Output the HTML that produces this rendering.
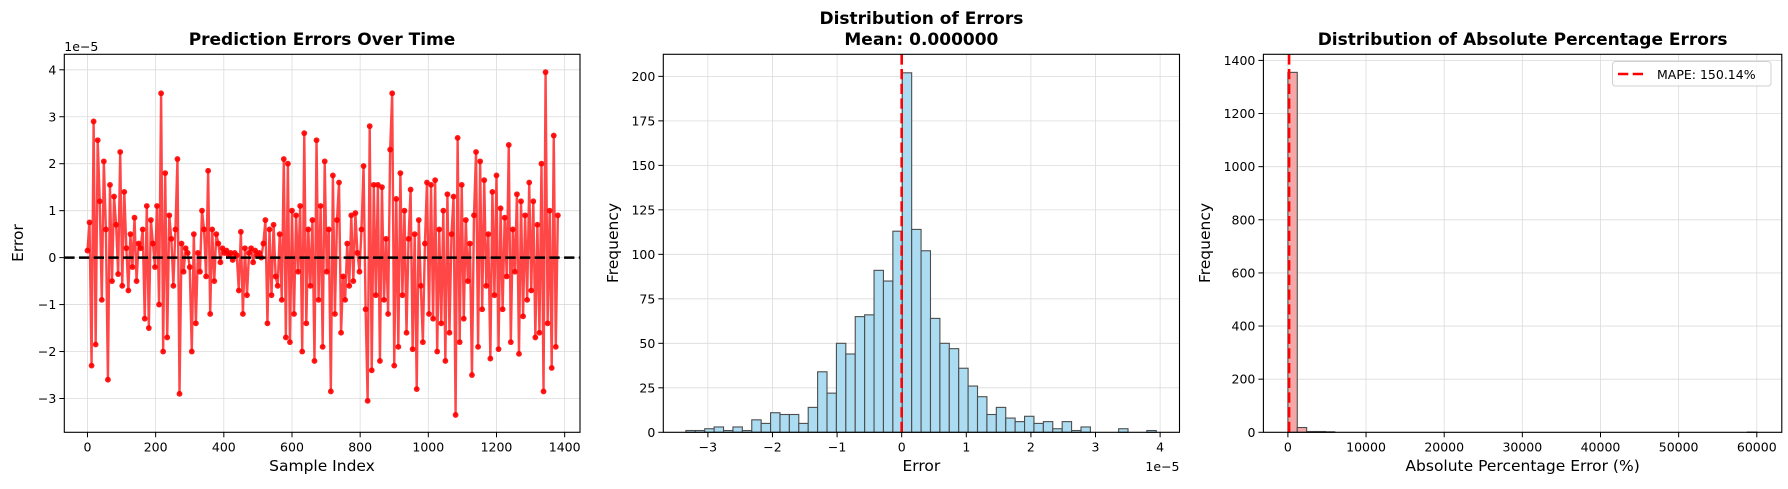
<!DOCTYPE html>
<html><head><meta charset="utf-8">
<style>
html,body{margin:0;padding:0;background:#fff;}
svg{display:block;font-family:"DejaVu Sans","Liberation Sans",sans-serif;}
</style></head>
<body>
<svg id="fig" width="1788" height="489" viewBox="0 0 1788 489" xmlns="http://www.w3.org/2000/svg">
<rect width="1788" height="489" fill="#fff"/>
</svg>
<script>
// ---- Panel 1 data: prediction errors (units of 1e-5), sampled every 6 indices ----
const errStep = 6;
const errValues = [
0.15,0.75,-2.3,2.9,-1.85,2.5,1.2,-0.9,2.05,0.6,
-2.6,1.55,-0.5,1.3,0.7,-0.35,2.25,-0.6,1.4,0.2,
-0.7,0.5,-0.2,0.85,-0.5,0.3,0.2,0.6,-1.3,1.1,
-1.5,0.8,0.3,-0.2,1.1,-1.0,3.5,-2.0,1.8,-1.7,
0.9,0.4,-0.6,0.6,2.1,-2.9,0.3,-0.3,0.2,0.1,
-0.2,-2.0,0.5,-1.4,0.1,-0.3,1.0,0.6,-0.4,1.85,
-1.2,0.6,-0.5,0.5,0.3,-0.1,0.2,0.1,0.15,0.05,
0.1,-0.05,0.1,0.05,-0.7,0.55,-1.2,0.2,-0.8,0.1,
0.2,-0.1,0.15,0.05,0.1,0.0,0.3,0.8,-1.4,0.6,
-0.8,0.7,-0.4,-0.6,0.5,-0.9,2.1,-1.7,2.0,-1.8,
1.0,-1.2,0.9,-0.3,1.1,-2.0,2.65,-1.4,0.6,-0.6,
0.8,-2.2,2.5,-0.9,1.1,-1.9,2.05,-0.3,0.6,-2.85,
1.75,-1.2,0.8,1.6,-1.6,-0.4,-0.9,0.3,-0.6,0.9,
-0.5,0.95,0.1,-0.3,0.6,1.95,-1.1,-3.05,2.8,-2.4,
1.55,-0.8,1.55,-2.2,1.5,-0.9,0.4,-1.2,2.3,3.5,
-2.3,1.25,-1.9,1.8,-0.8,1.0,-1.6,0.4,1.45,-1.95,
0.5,-2.8,0.8,-0.6,-1.8,0.3,1.6,-1.2,1.55,-1.3,
1.65,-2.0,0.6,-1.4,1.0,-2.2,1.35,-1.6,0.5,1.3,
-3.35,2.55,-1.8,1.55,-1.3,0.8,-0.5,0.3,-2.5,0.9,
2.25,-1.9,2.05,-1.1,1.65,-0.6,0.5,-2.15,1.4,-0.8,
1.75,-1.95,1.05,-1.1,0.85,-0.4,2.4,-1.8,0.6,-0.3,
1.35,-2.05,1.2,-1.25,0.9,-0.9,1.6,-0.7,1.2,-1.7,
0.7,-1.6,2.0,-2.85,3.95,-1.4,1.0,-2.35,2.6,-1.9,
0.9];
const p1XTicks = [0,200,400,600,800,1000,1200,1400];
const p1YTicks = [-3,-2,-1,0,1,2,3,4];
const p1YTickLabels = ["\u22123","\u22122","\u22121","0","1","2","3","4"];

// ---- Panel 2 data: histogram of errors (units of 1e-5) ----
const errBinStart = -3.34;
const errBinWidth = 0.1456;
const errCounts = [1,1,2,3,1,3,1,7,5,11,10,10,5,14,34,22,50,44,65,66,91,85,113,202,114,102,64,50,47,36,26,20,10,14,8,6,9,5,6,2,6,1,3,0,0,0,2,0,0,1];
const errMean = 0;
const p2XTicks = [-3,-2,-1,0,1,2,3,4];
const p2XTickLabels = ["\u22123","\u22122","\u22121","0","1","2","3","4"];
const p2YTicks = [0,25,50,75,100,125,150,175,200];

// ---- Panel 3 data: histogram of absolute percentage errors ----
const apeBinStart = 0;
const apeBinWidth = 1200;
const apeCounts = [1355,18,3,3,2,0,0,0,0,0,0,0,0,0,0,0,0,0,0,0,0,0,0,0,0,0,0,0,0,0,0,0,0,0,0,0,0,0,0,0,0,0,0,0,0,0,0,0,0,1];
const mapeValue = 150.14;
const p3XTicks = [0,10000,20000,30000,40000,50000,60000];
const p3YTicks = [0,200,400,600,800,1000,1200,1400];

const NS = "http://www.w3.org/2000/svg";
const fig = document.getElementById('fig');
function mk(tag, attrs, parent){
  const e = document.createElementNS(NS, tag);
  for (const k in attrs) e.setAttribute(k, attrs[k]);
  (parent||fig).appendChild(e);
  return e;
}
function txt(s, attrs, parent){ const t = mk('text', attrs, parent); t.textContent = s; return t; }

function axes(name, L, R, T, B, xmin, xmax, ymin, ymax){
  const g = mk('g', {});
  
  
  const sx = v => L + (v - xmin) / (xmax - xmin) * (R - L);
  const sy = v => B - (v - ymin) / (ymax - ymin) * (B - T);
  return {g, sx, sy, L, R, T, B};
}
function grid(a, xt, yt){
  const gg = mk('g', {stroke:'#dcdcdc', 'stroke-width':0.8}, a.g);
  
  
  xt.forEach(v => mk('line', {x1:a.sx(v), x2:a.sx(v), y1:a.T, y2:a.B}, gg));
  yt.forEach(v => mk('line', {x1:a.L, x2:a.R, y1:a.sy(v), y2:a.sy(v)}, gg));
}
function frameTicks(a, xt, xl, yt, yl, fontSize){
  const fg = mk('g', {}, a.g);
  
  
  mk('rect', {x:a.L, y:a.T, width:a.R-a.L, height:a.B-a.T, fill:'none', stroke:'#000', 'stroke-width':1.1}, fg);
  const xg = mk('g', {}, a.g);
  
  
  xt.forEach((v,i) => {
    mk('line', {x1:a.sx(v), x2:a.sx(v), y1:a.B, y2:a.B+5, stroke:'#000', 'stroke-width':1}, xg);
    const t = txt(xl[i], {x:a.sx(v), y:a.B+19, 'text-anchor':'middle', 'font-size':fontSize, fill:'#000'}, xg);
    
    
  });
  const yg = mk('g', {}, a.g);
  
  
  yt.forEach((v,i) => {
    mk('line', {x1:a.L-5, x2:a.L, y1:a.sy(v), y2:a.sy(v), stroke:'#000', 'stroke-width':1}, yg);
    const t = txt(yl[i], {x:a.L-8, y:a.sy(v)+4.5, 'text-anchor':'end', 'font-size':fontSize, fill:'#000'}, yg);
    
    
  });
}
function title(lines, cx, ys){
  lines.forEach((s,i) => {
    const t = txt(s, {x:cx, y:ys[i], 'text-anchor':'middle', 'font-size':17, 'font-weight':'bold', fill:'#000'});
    
    
  });
}
function xlabel(s, cx){
  const t = txt(s, {x:cx, y:471, 'text-anchor':'middle', 'font-size':15.5, fill:'#000'});
  
  
}
function ylabel(s, x, cy){
  const t = txt(s, {x:x, y:cy, 'text-anchor':'middle', 'font-size':15.5, fill:'#000', transform:`rotate(-90 ${x} ${cy})`});
  
  
}

// ===== Panel 1 =====
(function(){
  const a = axes('errors-over-time-panel', 64.3, 580, 54.3, 432.3, -68, 1445, -3.72, 4.33);
  grid(a, p1XTicks, p1YTicks);
  const sg = mk('g', {}, a.g);
  
  
  let d = '';
  errValues.forEach((v,i) => { d += (i? 'L':'M') + a.sx(i*errStep).toFixed(2) + ' ' + a.sy(v).toFixed(2); });
  const path = mk('path', {d:d, fill:'none', stroke:'#ff0000', 'stroke-opacity':0.72, 'stroke-width':2.4, 'stroke-linejoin':'round'}, sg);
  
  
  errValues.forEach((v,i) => {
    const c = mk('circle', {cx:a.sx(i*errStep), cy:a.sy(v), r:2.9, fill:'#ff0000', 'fill-opacity':0.9}, sg);
    
    
  });
  const z = mk('line', {x1:a.L, x2:a.R, y1:a.sy(0), y2:a.sy(0), stroke:'#000', 'stroke-width':2.6, 'stroke-dasharray':'10.3 4.4'}, a.g);
  
  
  frameTicks(a, p1XTicks, p1XTicks.map(String), p1YTicks, p1YTickLabels, 12.5);
  const o = txt('1e\u22125', {x:64.3, y:51, 'font-size':12.5, fill:'#000'});
  
  
  title(['Prediction Errors Over Time'], 322, [45]);
  xlabel('Sample Index', 322);
  ylabel('Error', 23, 243);
})();

// ===== Panel 2 =====
(function(){
  const a = axes('error-distribution-panel', 663.3, 1179.5, 54.3, 432.3, -3.69, 4.30, 0, 212.4);
  grid(a, p2XTicks, p2YTicks);
  const bg = mk('g', {}, a.g);
  
  
  errCounts.forEach((c,i) => {
    if (c <= 0) return;
    const x0 = a.sx(errBinStart + i*errBinWidth), x1 = a.sx(errBinStart + (i+1)*errBinWidth);
    const r = mk('rect', {x:x0, y:a.sy(c), width:x1-x0, height:a.sy(0)-a.sy(c), fill:'#abdcf1', stroke:'#4d4d4d', 'stroke-width':1.1}, bg);
    
    
  });
  const m = mk('line', {x1:a.sx(errMean), x2:a.sx(errMean), y1:a.T, y2:a.B, stroke:'#ff0000', 'stroke-width':2.6, 'stroke-dasharray':'10.3 4.4'}, a.g);
  
  
  frameTicks(a, p2XTicks, p2XTickLabels, p2YTicks, p2YTicks.map(String), 12.5);
  const o = txt('1e\u22125', {x:1179.5, y:471, 'text-anchor':'end', 'font-size':12.5, fill:'#000'});
  
  
  title(['Distribution of Errors', 'Mean: 0.000000'], 921.4, [24, 45]);
  xlabel('Error', 921.4);
  ylabel('Frequency', 618, 243);
})();

// ===== Panel 3 =====
(function(){
  const a = axes('ape-distribution-panel', 1263.4, 1781.8, 54.3, 432.3, -3135, 63200, 0, 1423);
  grid(a, p3XTicks, p3YTicks);
  const bg = mk('g', {}, a.g);
  
  
  apeCounts.forEach((c,i) => {
    const x0 = a.sx(apeBinStart + i*apeBinWidth), x1 = a.sx(apeBinStart + (i+1)*apeBinWidth);
    const r = mk('rect', {x:x0, y:a.sy(c), width:x1-x0, height:a.sy(0)-a.sy(c), fill:'#f5a6a6', stroke:'#4d4d4d', 'stroke-width':1.1}, bg);
    
    
  });
  const m = mk('line', {x1:a.sx(mapeValue), x2:a.sx(mapeValue), y1:a.T, y2:a.B, stroke:'#ff0000', 'stroke-width':2.6, 'stroke-dasharray':'10.3 4.4'}, a.g);
  
  
  frameTicks(a, p3XTicks, p3XTicks.map(String), p3YTicks, p3YTicks.map(String), 12.5);
  title(['Distribution of Absolute Percentage Errors'], 1522.6, [45]);
  xlabel('Absolute Percentage Error (%)', 1522.6);
  ylabel('Frequency', 1210, 243);
  const lg = mk('g', {});
  
  
  mk('rect', {x:1612.5, y:61.5, width:158.5, height:24.5, rx:3, fill:'#fff', 'fill-opacity':0.8, stroke:'#d0d0d0', 'stroke-width':1}, lg);
  const ll = mk('line', {x1:1618, x2:1643, y1:74, y2:74, stroke:'#ff0000', 'stroke-width':2.6, 'stroke-dasharray':'10.3 4.4'}, lg);
  
  
  const lt = txt('MAPE: 150.14%', {x:1657, y:79, 'font-size':12.5, fill:'#000'}, lg);
  
  
})();
</script>
</body></html>
